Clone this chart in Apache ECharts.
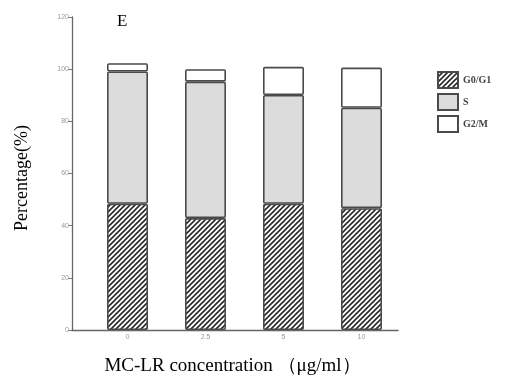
<!DOCTYPE html>
<html>
<head>
<meta charset="utf-8">
<script src="https://cdn.jsdelivr.net/npm/echarts@6/dist/echarts.min.js"></script>
<style>
  html, body { margin: 0; padding: 0; background: #fff; }
  #chart { width: 507px; height: 379px; }
</style>
</head>
<body>
<div id="chart"></div>
<script>
  var categories = ['0', '2.5', '5', '10'];
  var g0g1 = [48.4, 42.9, 48.4, 46.7];
  var sPhase = [50.7, 52.3, 41.7, 38.5];
  var g2m = [3.2, 4.8, 10.8, 15.4];

  // diagonal hatch pattern for G0/G1
  function hatch() {
    var c = document.createElement('canvas');
    c.width = 5; c.height = 5;
    var ctx = c.getContext('2d');
    ctx.fillStyle = '#fff';
    ctx.fillRect(0, 0, 5, 5);
    ctx.strokeStyle = '#2a2a2a';
    ctx.lineWidth = 1.6;
    ctx.beginPath();
    ctx.moveTo(-1, 6); ctx.lineTo(6, -1);
    ctx.moveTo(-4, 4); ctx.lineTo(4, -4);
    ctx.moveTo(1, 9); ctx.lineTo(9, 1);
    ctx.stroke();
    return c;
  }

  var border = { borderColor: '#4a4a4a', borderWidth: 1.6, borderRadius: 1 };
  var serif = 'Liberation Serif';

  var chart = echarts.init(document.getElementById('chart'));
  chart.setOption({
    animation: false,
    backgroundColor: '#fff',
    title: {
      text: 'E', left: 112, top: 8,
      textStyle: { fontFamily: serif, fontWeight: 'normal', fontSize: 17, color: '#000' }
    },
    legend: {
      orient: 'vertical', left: 432, top: 66,
      itemWidth: 20, itemHeight: 16, itemGap: 4,
      icon: 'rect',
      data: ['G0/G1', 'S', 'G2/M'],
      textStyle: { fontFamily: serif, fontSize: 10, fontWeight: 'bold', color: '#444' }
    },
    grid: [
      { left: 88.5, right: 106.5, top: 17, bottom: 49, outerBoundsMode: 'none' },
      { left: 72, right: 109, top: 17, bottom: 49, outerBoundsMode: 'none' }
    ],
    xAxis: [
      {
        type: 'category', data: categories, gridIndex: 0,
        name: 'MC-LR concentration （μg/ml）',
        nameLocation: 'middle', nameGap: 27,
        nameTextStyle: { fontFamily: serif, fontSize: 19, color: '#000', padding: [0, 24, 0, 0] },
        axisLine: { show: false },
        axisTick: { show: false },
        axisLabel: { fontSize: 7, color: '#999', margin: 4 }
      },
      {
        // plain baseline spanning the full frame
        type: 'value', gridIndex: 1, min: 0, max: 1,
        splitLine: { show: false }, axisTick: { show: false }, axisLabel: { show: false },
        axisLine: { show: true, onZero: false, lineStyle: { color: '#666', width: 1.3 } }
      }
    ],
    yAxis: [
      {
        type: 'value', min: 0, max: 120, interval: 20, gridIndex: 0, offset: 16.5,
        name: 'Percentage(%)',
        nameLocation: 'middle', nameGap: 41, nameRotate: 90,
        nameTextStyle: { fontFamily: serif, fontSize: 18, color: '#000', padding: [0, 9, 0, 0] },
        splitLine: { show: false },
        axisLine: { show: true, lineStyle: { color: '#666', width: 1.3 } },
        axisTick: { show: true, length: 4, lineStyle: { color: '#777' } },
        axisLabel: { fontSize: 7, color: '#999', margin: 3 }
      },
      { type: 'value', gridIndex: 1, show: false }
    ],
    series: [
      {
        name: 'G0/G1', type: 'bar', stack: 'a', barWidth: 41,
        itemStyle: Object.assign({ color: { image: hatch(), repeat: 'repeat' } }, border),
        data: g0g1
      },
      {
        name: 'S', type: 'bar', stack: 'a', barWidth: 41,
        itemStyle: Object.assign({ color: '#dcdcdc' }, border),
        data: sPhase
      },
      {
        name: 'G2/M', type: 'bar', stack: 'a', barWidth: 41,
        itemStyle: Object.assign({ color: '#fff' }, border),
        data: g2m
      }
    ]
  });
</script>
</body>
</html>
